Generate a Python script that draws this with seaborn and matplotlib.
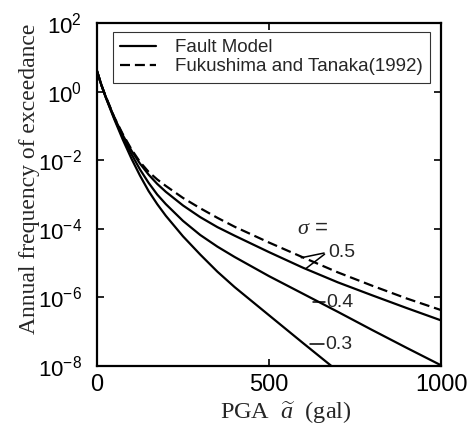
import numpy as np
import pandas as pd
import matplotlib
matplotlib.use("Agg")
import matplotlib.pyplot as plt
from matplotlib.lines import Line2D
import seaborn as sns

# ---- data ----
pga = [0, 12.5, 25, 50, 75, 100, 125, 150, 175, 200, 250, 300, 350, 400,
       500, 600, 700, 800, 900, 1000]
freq_ft_05 = [3.98, 1.58, 0.741, 0.182, 0.0575, 0.0209, 8.91e-3, 4.57e-3, 2.75e-3,
              1.78e-3, 7.94e-4, 3.98e-4, 2.09e-4, 1.15e-4, 3.98e-5, 1.45e-5,
              5.37e-6, 2.19e-6, 9.33e-7, 4.27e-7]
freq_fm_05 = [3.98, 1.58, 0.724, 0.178, 0.0537, 0.0191, 7.94e-3, 3.80e-3, 2.04e-3,
              1.20e-3, 4.79e-4, 2.19e-4, 1.12e-4, 6.31e-5, 2.09e-5, 7.24e-6,
              2.75e-6, 1.15e-6, 4.90e-7, 2.14e-7]
freq_fm_04 = [3.98, 1.58, 0.708, 0.170, 0.0468, 0.0151, 5.37e-3, 2.19e-3, 1.0e-3,
              5.25e-4, 1.70e-4, 6.61e-5, 3.02e-5, 1.51e-5, 4.17e-6, 1.26e-6,
              3.80e-7, 1.12e-7, 3.39e-8, 1.05e-8]
pga_03 = [0, 12.5, 25, 50, 75, 100, 125, 150, 175, 200, 250, 300, 350, 400,
          500, 600, 700]
freq_fm_03 = [3.98, 1.58, 0.692, 0.158, 0.0398, 0.0112, 3.55e-3, 1.26e-3, 5.25e-4,
              2.40e-4, 6.03e-5, 1.78e-5, 5.62e-6, 2.0e-6, 3.02e-7, 4.57e-8, 7.08e-9]

legend_labels = ["Fault Model", "Fukushima and Tanaka(1992)"]
sigma_labels = ["0.5", "0.4", "0.3"]

df = pd.concat([
    pd.DataFrame({"pga": pga, "freq": freq_ft_05, "curve": "ft05"}),
    pd.DataFrame({"pga": pga, "freq": freq_fm_05, "curve": "fm05"}),
    pd.DataFrame({"pga": pga, "freq": freq_fm_04, "curve": "fm04"}),
    pd.DataFrame({"pga": pga_03, "freq": freq_fm_03, "curve": "fm03"}),
])

sns.set_theme(style="ticks")
plt.rcParams["font.family"] = ["Liberation Sans", "DejaVu Sans"]
plt.rcParams["mathtext.fontset"] = "custom"
plt.rcParams["mathtext.rm"] = "Liberation Sans"
plt.rcParams["mathtext.it"] = "Liberation Serif:italic"
plt.rcParams["mathtext.bf"] = "Liberation Sans:bold"

fig = plt.figure(figsize=(4.73, 4.29), dpi=100)
ax = fig.add_axes([97/473, 1-366/429, 344/473, 343/429])

dash = (0, (4.5, 2.2))
for key, ls in [("fm03", "-"), ("fm04", "-"), ("fm05", "-"), ("ft05", dash)]:
    sub = df[df["curve"] == key]
    sns.lineplot(data=sub, x="pga", y="freq", ax=ax, color="black",
                 linewidth=1.6, linestyle=ls, legend=False)

ax.set_yscale("log")
ax.set_xlim(0, 1000)
ax.set_ylim(1e-8, 1e2)
ax.set_xticks([0, 500, 1000])
ax.set_yticks([1e-8, 1e-6, 1e-4, 1e-2, 1e0, 1e2])
ax.yaxis.set_minor_locator(matplotlib.ticker.NullLocator())
ax.tick_params(axis="both", which="major", direction="in", length=5, width=1.2,
               labelsize=16, top=True, right=True, colors="black")
ax.tick_params(axis="y", pad=11)
ax.tick_params(axis="x", pad=6, labelsize=17)
for s in ax.spines.values():
    s.set_linewidth(1.6)
    s.set_color("black")

ax.set_xlabel(r"PGA  $\widetilde{a}$  (gal)", family=["Liberation Serif"], fontsize=17.5)
ax.set_ylabel("Annual frequency of exceedance", family=["Liberation Serif"], fontsize=17)
ax.xaxis.set_label_coords(0.55, -0.1)
ax.yaxis.set_label_coords(-0.165, 0.545)

handles = [Line2D([], [], color="black", lw=1.6),
           Line2D([], [], color="black", lw=1.6, linestyle=dash)]
leg = ax.legend(handles, legend_labels, loc="upper left", bbox_to_anchor=(0.046, 0.975),
                fontsize=13.5, frameon=True, fancybox=False, handlelength=1.9,
                handletextpad=1.0, borderpad=0.4, labelspacing=0.1, borderaxespad=0)
leg.get_frame().set_edgecolor("black")
leg.get_frame().set_linewidth(0.8)

# sigma annotations
ax.text(581, 10**-3.99, r"$\sigma$ =", fontsize=16, va="center", ha="left")
ax.text(673, 10**-4.69, sigma_labels[0], fontsize=14, va="center", ha="left")
ax.annotate("", xy=(586, 10**-4.86), xytext=(668, 10**-4.69),
            arrowprops=dict(arrowstyle="-", color="black", lw=1.1))
ax.annotate("", xy=(602, 10**-5.2), xytext=(668, 10**-4.69),
            arrowprops=dict(arrowstyle="-", color="black", lw=1.1))
ax.text(666, 10**-6.15, sigma_labels[1], fontsize=14, va="center", ha="left")
ax.plot([628, 664], [10**-6.13, 10**-6.13], color="black", lw=1.1)
ax.text(663, 10**-7.38, sigma_labels[2], fontsize=14, va="center", ha="left")
ax.plot([620, 661], [10**-7.36, 10**-7.36], color="black", lw=1.1)

fig.savefig("out.png", dpi=100)
